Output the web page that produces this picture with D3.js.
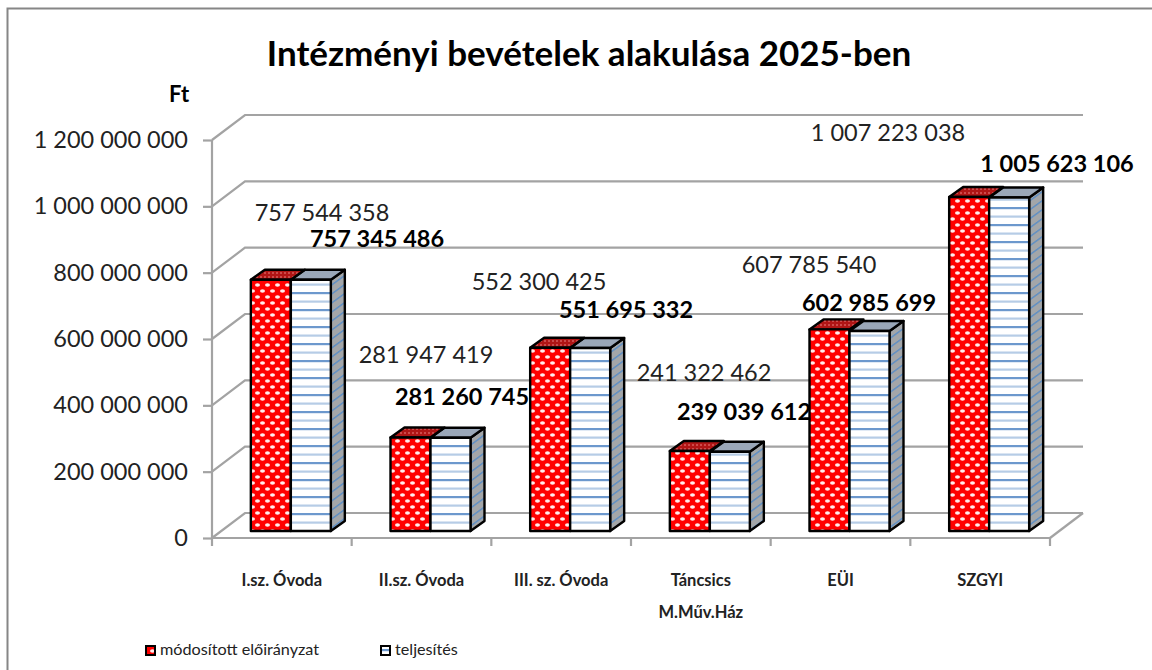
<!DOCTYPE html>
<html><head><meta charset="utf-8">
<script src="https://cdn.jsdelivr.net/npm/d3@7"></script>
<style>html,body{margin:0;padding:0;background:#fff}svg{display:block}text{font-family:Lato,"Open Sans",sans-serif}</style>
</head><body><div id="c"></div>
<script>
const categories=["I.sz. Óvoda","II.sz. Óvoda","III. sz. Óvoda","Táncsics","EÜI","SZGYI"];
const planned=[757544358,281947419,552300425,241322462,607785540,1007223038];
const actual=[757345486,281260745,551695332,239039612,602985699,1005623106];
const seriesNames=["módosított előirányzat","teljesítés"];
const yTicks=[0,200000000,400000000,600000000,800000000,1000000000,1200000000];
const title="Intézményi bevételek alakulása 2025-ben";
// layout only: label anchor positions
const plannedLabelPos=[[322,213],[426,355],[539,282],[704,373],[809,265],[888,133]];
const actualLabelPos=[[377,239],[462,397],[626,310],[744,412],[869,303],[1057,164]];

const W=1152,H=670;
const svg=d3.select("#c").append("svg").attr("width",W).attr("height",H);
const defs=svg.append("defs");
function pat(id,w,h,draw,tr){const p=defs.append("pattern").attr("id",id).attr("patternUnits","userSpaceOnUse").attr("width",w).attr("height",h);if(tr)p.attr("patternTransform",tr);draw(p);}
pat("red",10,12,p=>{p.append("rect").attr("width",10).attr("height",12).attr("fill","#ff0000");
 [[2.5,3],[7.5,9]].forEach(c=>p.append("ellipse").attr("cx",c[0]).attr("cy",c[1]).attr("rx",2.5).attr("ry",1.7).attr("fill","#ffecec"));});
pat("blue",10,17,p=>{p.append("rect").attr("width",10).attr("height",17).attr("fill","#fff");
 p.append("rect").attr("y",3).attr("width",10).attr("height",2.2).attr("fill","#6c98cd");
 p.append("rect").attr("y",11.5).attr("width",10).attr("height",2.2).attr("fill","#b6cce6");});
pat("redTop",4,4,p=>{p.append("rect").attr("width",4).attr("height",4).attr("fill","#b01515");
 p.append("rect").attr("width",2).attr("height",2).attr("fill","#cc4a4a");});
pat("side",10,9,p=>{p.append("rect").attr("width",10).attr("height",9).attr("fill","#a3a6a9");
 p.append("rect").attr("y",3).attr("width",10).attr("height",1.8).attr("fill","#5f8fc4");},"skewY(-36)");

// frame (left and top only are in view)
svg.append("path").attr("d",`M7.5 ${H}V8.5H${W}`).attr("fill","none").attr("stroke","#868686").attr("stroke-width",2);

const x0=212,x1=1050,yBase=538,yTop=140,dx=33,dy=-25;
const y=d3.scaleLinear().domain([0,1200000000]).range([yBase,yTop]);
const xBand=d3.scaleBand().domain(categories).range([x0,x1]);
const grey="#a3a3a3";
const fmt=v=>d3.format(",")(v).replace(/,/g," ");

// gridlines on the back wall + floor diagonal
const grid=svg.append("g").attr("fill","none").attr("stroke",grey).attr("stroke-width",2.2);
grid.selectAll("path").data(yTicks).join("path")
 .attr("d",t=>`M${x0} ${y(t)}L${x0+dx} ${y(t)+dy}H${x1+dx}`);
grid.append("path").attr("d",`M${x1} ${yBase}L${x1+dx} ${yBase+dy}`);

// axes
const yAxis=d3.axisLeft(y).tickValues(yTicks).tickSize(9).tickPadding(15).tickFormat(fmt);
const gy=svg.append("g").attr("transform",`translate(${x0},0)`).call(yAxis);
gy.select(".domain").attr("stroke",grey).attr("stroke-width",2.2).attr("d",`M0 ${yTop}V${yBase}`);
gy.selectAll(".tick line").attr("stroke",grey).attr("stroke-width",2.2);
gy.selectAll(".tick text").attr("font-size",23.5).attr("fill","#222");
const xAxis=d3.axisBottom(xBand).tickValues([]).tickSize(0);
const gx=svg.append("g").attr("transform",`translate(0,${yBase})`).call(xAxis);
gx.select(".domain").attr("stroke",grey).attr("stroke-width",2.2).attr("d",`M${x0} 0H${x1}`);
gx.selectAll("line.t").data(d3.range(categories.length+1)).join("line").attr("class","t")
 .attr("x1",i=>x0+i*xBand.step()).attr("x2",i=>x0+i*xBand.step()).attr("y1",0).attr("y2",8)
 .attr("stroke",grey).attr("stroke-width",2.2);

// bars
const bw=40,ddx=14,ddy=-10,floorShift=-7,barShift=9;
const by=v=>y(v)+floorShift;
const bars=svg.append("g").attr("stroke","#000").attr("stroke-width",2.4).attr("stroke-linejoin","round");
categories.forEach((c,i)=>{
 const cx=xBand(c)+xBand.bandwidth()/2+barShift;
 const l=cx-bw, r=cx+bw, b=by(0), tp=by(planned[i]), ta=by(actual[i]);
 const g=bars.append("g");
 g.append("path").attr("fill","url(#side)").attr("d",`M${r} ${ta}l${ddx} ${ddy}V${b+ddy}L${r} ${b}Z`);
 g.append("path").attr("fill","#9aa7b8").attr("d",`M${cx} ${ta}l${ddx} ${ddy}H${r+ddx}L${r} ${ta}Z`);
 g.append("path").attr("fill","url(#redTop)").attr("d",`M${l} ${tp}l${ddx} ${ddy}H${cx+ddx}L${cx} ${tp}Z`);
 g.append("rect").attr("x",l).attr("y",tp).attr("width",bw).attr("height",b-tp).attr("fill","url(#red)");
 g.append("rect").attr("x",cx).attr("y",ta).attr("width",bw).attr("height",b-ta).attr("fill","url(#blue)");
});

// value labels
const lab=svg.append("g").attr("text-anchor","middle").attr("font-size",23.5);
lab.selectAll("text.p").data(planned).join("text").attr("class","p")
 .attr("x",(d,i)=>plannedLabelPos[i][0]).attr("y",(d,i)=>plannedLabelPos[i][1]).attr("dy",".35em")
 .attr("fill","#222").text(fmt);
lab.selectAll("text.a").data(actual).join("text").attr("class","a")
 .attr("x",(d,i)=>actualLabelPos[i][0]).attr("y",(d,i)=>actualLabelPos[i][1]).attr("dy",".35em")
 .attr("fill","#000").attr("font-weight",700).text(fmt);

// category labels
const cat=svg.append("g").attr("text-anchor","middle").attr("font-size",16.5).attr("font-weight",700).attr("fill","#222");
cat.selectAll("text").data(categories).join("text")
 .attr("x",c=>xBand(c)+xBand.bandwidth()/2).attr("y",586).text(c=>c);
cat.append("text").attr("x",xBand("Táncsics")+xBand.bandwidth()/2).attr("y",618).text("M.Műv.Ház");

svg.append("text").attr("x",589).attr("y",66).attr("text-anchor","middle").attr("font-size",35).attr("font-weight",700).attr("fill","#000").text(title);
svg.append("text").attr("x",179).attr("y",102).attr("text-anchor","middle").attr("font-size",22).attr("font-weight",700).attr("fill","#000").text("Ft");

// legend
const lg=svg.append("g");
const lx=[146,381], lf=["url(#red)","url(#blue)"];
seriesNames.forEach((n,i)=>{
 lg.append("rect").attr("x",lx[i]).attr("y",646).attr("width",9).attr("height",9).attr("fill",lf[i]).attr("stroke","#000").attr("stroke-width",2);
 lg.append("text").attr("x",lx[i]+14).attr("y",655).attr("font-size",16.2).attr("fill","#222").text(n);
});
</script></body></html>
